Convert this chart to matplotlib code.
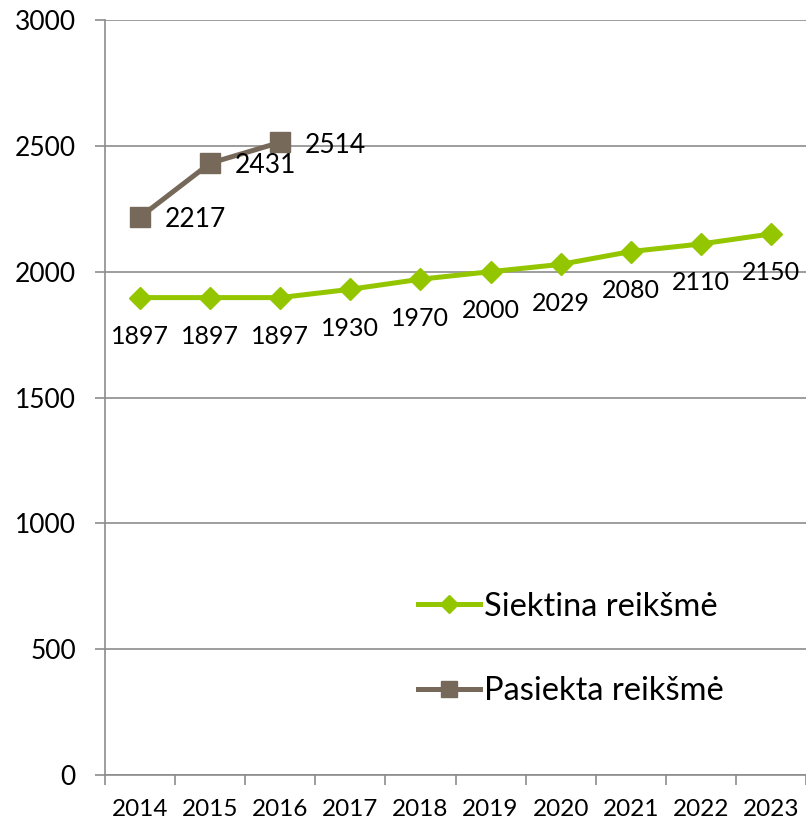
import matplotlib
matplotlib.use("Agg")
from matplotlib import pyplot as plt

# Chart data
years = ["2014", "2015", "2016", "2017", "2018", "2019", "2020", "2021", "2022", "2023"]
target = [1897, 1897, 1897, 1930, 1970, 2000, 2029, 2080, 2110, 2150]
achieved = [2217, 2431, 2514]
target_name = "Siektina reikšmė"
achieved_name = "Pasiekta reikšmė"

green = "#94C600"
brown = "#76695A"
grid_gray = "#8C8C8C"

plt.rcParams["font.family"] = ["Lato", "DejaVu Sans"]

figure = plt.figure(figsize=(8.06, 8.27), dpi=100)
axes = figure.add_axes([105/806, 52/827, 701/806, 755/827])

x = list(range(len(years)))
axes.plot(x, target, color=green, linewidth=3.6, marker="D", markersize=11,
          label=target_name, zorder=3)
axes.plot(x[:len(achieved)], achieved, color=brown, linewidth=3.6, marker="s",
          markersize=14, label=achieved_name, zorder=3)

# Data labels: green below the points, brown to the right
for i, v in enumerate(target):
  axes.annotate(str(v), (x[i], v), xytext=(0, -28), textcoords="offset points",
                ha="center", va="center", fontsize=18)
for i, v in enumerate(achieved):
  axes.annotate(str(v), (x[i], v), xytext=(18, -2), textcoords="offset points",
                ha="left", va="center", fontsize=19)

axes.set_xlim(-0.5, len(years) - 0.5)
axes.set_ylim(0, 3000)
axes.set_yticks(range(0, 3001, 500))
axes.set_xticks(x)
axes.set_xticklabels(years, fontsize=17.5)
axes.set_xticks([i - 0.5 for i in range(len(years) + 1)], minor=True)
axes.tick_params(axis="x", which="major", length=0, pad=17)
axes.tick_params(axis="x", which="minor", length=7, color=grid_gray, width=1.2)
axes.tick_params(axis="y", length=7, color=grid_gray, width=1.2, labelsize=19, pad=14)

axes.grid(axis="y", color=grid_gray, linewidth=1.2)
axes.set_axisbelow(True)
for side in ["top", "right"]:
  axes.spines[side].set_visible(False)
for side in ["left", "bottom"]:
  axes.spines[side].set_color(grid_gray)
  axes.spines[side].set_linewidth(1.2)

legend = axes.legend(loc="lower left", bbox_to_anchor=(0.405, 0.052), frameon=False,
                     fontsize=23.5, handlelength=1.9, handletextpad=0.1,
                     labelspacing=1.67, markerscale=0.8)

figure.savefig("out.png", dpi=100)
